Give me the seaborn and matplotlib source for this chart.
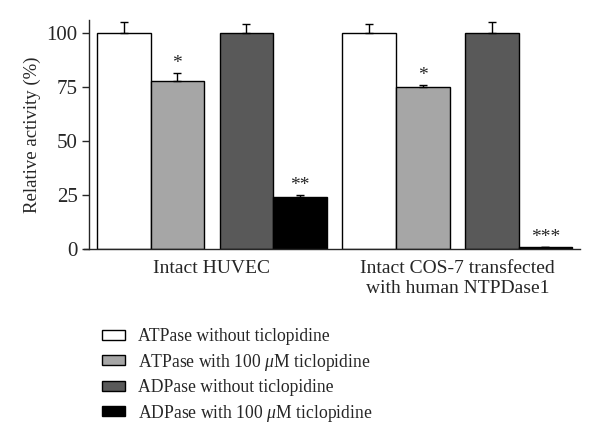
import matplotlib
matplotlib.use('Agg')
import matplotlib.pyplot as plt
from matplotlib.patches import Patch
import seaborn as sns
import numpy as np
import pandas as pd

groups = ['Intact HUVEC', 'Intact COS-7 transfected\nwith human NTPDase1']
conditions = ['ATPase without ticlopidine',
              'ATPase with 100 $\\mu$M ticlopidine',
              'ADPase without ticlopidine',
              'ADPase with 100 $\\mu$M ticlopidine']
huvec_vals = [100, 78, 100, 24]
huvec_err = [5, 3.5, 4.2, 1]
cos7_vals = [100, 75, 100, 1]
cos7_err = [4.2, 1.1, 5, 0]
huvec_stars = ['', '*', '', '**']
cos7_stars = ['', '*', '', '***']
colors = ['#ffffff', '#a6a6a6', '#595959', '#000000']

sns.set_style('ticks')
plt.rcParams['font.family'] = ['Liberation Serif', 'DejaVu Serif']
plt.rcParams['mathtext.fontset'] = 'custom'
plt.rcParams['mathtext.it'] = 'Liberation Serif:italic'
plt.rcParams['mathtext.rm'] = 'Liberation Serif'

# bar positions: pairs of bars with a small gap between pairs
gap = 0.29
pos = []
for g in range(2):
    for b in range(4):
        pos.append(g * 4 + b + (g * 2 + b // 2) * gap)
pos = np.array(pos, dtype=float)

df = pd.DataFrame({
    'pos': pos,
    'value': huvec_vals + cos7_vals,
    'err': huvec_err + cos7_err,
    'cond': conditions * 2,
    'star': huvec_stars + cos7_stars,
})

fig = plt.figure(figsize=(6, 4.47), dpi=100)
ax = fig.add_axes([0.148, 0.443, 0.819, 0.512])

sns.barplot(data=df, x='pos', y='value', hue='cond', hue_order=conditions,
            palette=colors, native_scale=True, dodge=False, width=1,
            edgecolor='black', linewidth=1, errorbar=None, legend=False, ax=ax)

ax.errorbar(df['pos'], df['value'], yerr=[np.zeros(len(df)), df['err']],
            fmt='none', ecolor='black', elinewidth=1, capsize=3, capthick=1)

for _, r in df.iterrows():
    if r['star']:
        ax.text(r['pos'], r['value'] + r['err'] + 0.5, r['star'],
                ha='center', va='bottom', fontsize=14)

ax.set_xlim(pos[0] - 0.654, pos[0] + 8.52)
ax.set_ylim(0, 106)
ax.set_yticks([0, 25, 50, 75, 100])
ax.tick_params(axis='y', labelsize=15, length=5, width=1, direction='out', pad=3)
group_centers = [pos[:4].mean(), pos[4:].mean()]
ax.set_xticks(group_centers)
ax.set_xticklabels(groups, fontsize=14, va='top', linespacing=1.2)
ax.tick_params(axis='x', length=0, pad=8)
ax.set_xlabel('')
ax.set_ylabel('Relative activity (%)', fontsize=13.5, labelpad=4)
for s in ['top', 'right']:
    ax.spines[s].set_visible(False)
ax.spines['left'].set_linewidth(1)
ax.spines['bottom'].set_linewidth(1)
ax.spines['bottom'].set_bounds(pos[0] - 0.75, pos[0] + 8.52)

handles = [Patch(facecolor=c, edgecolor='black', linewidth=1) for c in colors]
fig.legend(handles, conditions, loc='upper left', bbox_to_anchor=(0.158, 0.282),
           frameon=False, fontsize=12.7, handlelength=1.3, handleheight=0.5,
           labelspacing=0.37, handletextpad=0.75, borderaxespad=0)

fig.savefig('out.png', dpi=100)
